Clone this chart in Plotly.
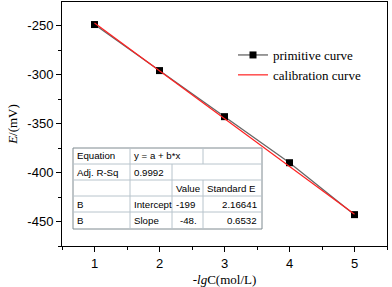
import plotly.graph_objects as go

# data
x_vals = [1, 2, 3, 4, 5]
e_vals = [-249, -296, -343, -390, -443]
calib_x = [1, 5]
calib_y = [-247.5, -442.5]
x_ticks = [1, 2, 3, 4, 5]
y_ticks = [-250, -300, -350, -400, -450]
y_tick_text = ["-250", "-300", "-350", "-400", "-450"]
table_rows = [
    ["Equation", "y = a + b*x", "", ""],
    ["Adj. R-Sq", "0.9992", "", ""],
    ["", "", "Value", "Standard E"],
    ["B", "Intercept", "-199", "2.16641"],
    ["B", "Slope", "-48.", "0.6532"],
]

W, H = 392, 287
L, R, T, B = 62, 387, 2, 246

fig = go.Figure()
fig.add_trace(go.Scatter(x=x_vals, y=e_vals, mode="lines+markers", name="primitive curve",
                         line=dict(color="#666666", width=1.3),
                         marker=dict(symbol="square", size=7, color="black")))
fig.add_trace(go.Scatter(x=calib_x, y=calib_y, mode="lines", name="calibration curve",
                         line=dict(color="#ff2020", width=1.2)))

def px(X):
    return (X - L) / (R - L)

def py(Y):
    return (B - Y) / (B - T)

shapes = []
annots = []
cols = [73, 130, 172, 203, 262]
rows = [148, 164, 180, 196, 212, 229]
gc = "#b8c4cc"
shapes.append(dict(type="rect", xref="paper", yref="paper", x0=px(cols[0]), x1=px(cols[-1]),
                   y0=py(rows[-1]), y1=py(rows[0]), line=dict(color="#7f8a90", width=1),
                   fillcolor="white", layer="above"))
for r in rows[1:-1]:
    shapes.append(dict(type="line", xref="paper", yref="paper", x0=px(cols[0]), x1=px(cols[-1]),
                       y0=py(r), y1=py(r), line=dict(color=gc, width=1), layer="above"))
divs = [[1, 3], [1, 2], [1, 2, 3], [1, 2, 3], [1, 2, 3]]
for i, d in enumerate(divs):
    for c in d:
        shapes.append(dict(type="line", xref="paper", yref="paper", x0=px(cols[c]), x1=px(cols[c]),
                           y0=py(rows[i + 1]), y1=py(rows[i]), line=dict(color=gc, width=1), layer="above"))
for i, row in enumerate(table_rows):
    yc = py((rows[i] + rows[i + 1]) / 2)
    for j, txt in enumerate(row):
        if not txt:
            continue
        if j == 3 and i >= 3:
            xa, anchor = px(cols[4] - 3), "right"
        elif j == 2 and i == 4:
            xa, anchor = px(cols[3] - 4), "right"
        else:
            xa, anchor = px(cols[j] + 2), "left"
        annots.append(dict(x=xa, y=yc, xref="paper", yref="paper", text=txt, showarrow=False,
                           xanchor=anchor, yanchor="middle",
                           font=dict(family="Liberation Sans, Arial", size=9.7, color="black")))

fig.update_layout(
    width=W, height=H,
    margin=dict(l=L, r=W - R, t=T, b=H - B, autoexpand=False),
    paper_bgcolor="white", plot_bgcolor="white",
    showlegend=True,
    legend=dict(x=px(233), y=py(40), xanchor="left", yanchor="top", bgcolor="rgba(0,0,0,0)",
                font=dict(family="Liberation Serif, Times New Roman", size=13, color="black"),
                itemwidth=30, tracegroupgap=0),
    shapes=shapes, annotations=annots,
    xaxis=dict(range=[0.5, 5.5], tickvals=x_ticks, ticks="outside", ticklen=5, tickcolor="black",
               showline=True, linecolor="black", linewidth=1, mirror=True, showgrid=False, zeroline=False,
               automargin=False,
               tickfont=dict(family="Liberation Sans, Arial", size=13, color="black"),
               minor=dict(dtick=0.5, ticks="outside", ticklen=3, tickcolor="black"),
               title=dict(text="-<i>lg</i>C(mol/L)", standoff=8,
                          font=dict(family="Liberation Serif, Times New Roman", size=13, color="black"))),
    yaxis=dict(range=[-475, -226], tickvals=y_ticks, ticktext=y_tick_text, ticks="outside", ticklen=5,
               tickcolor="black",
               showline=True, linecolor="black", linewidth=1, mirror=True, showgrid=False, zeroline=False,
               automargin=False,
               tickfont=dict(family="Liberation Sans, Arial", size=13, color="black"),
               minor=dict(dtick=25, ticks="outside", ticklen=3, tickcolor="black"),
               title=dict(text="<i>E</i>/(mV)", standoff=6,
                          font=dict(family="Liberation Serif, Times New Roman", size=13, color="black"))),
)
fig.write_html("out.html", config={"displayModeBar": False},
               post_script="document.body.style.margin='0';document.body.style.overflow='hidden';")
